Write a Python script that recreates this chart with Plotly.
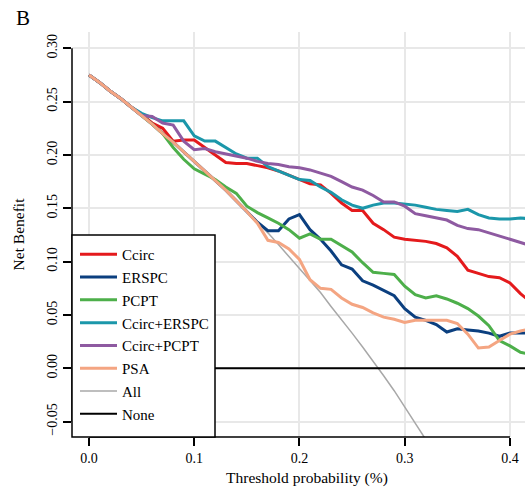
import plotly.graph_objects as go

thresholds = [0.00, 0.01, 0.02, 0.03, 0.04, 0.05, 0.06, 0.07, 0.08, 0.09,
              0.10, 0.11, 0.12, 0.13, 0.14, 0.15, 0.16, 0.17, 0.18, 0.19,
              0.20, 0.21, 0.22, 0.23, 0.24, 0.25, 0.26, 0.27, 0.28, 0.29,
              0.30, 0.31, 0.32, 0.33, 0.34, 0.35, 0.36, 0.37, 0.38, 0.39,
              0.40, 0.41, 0.42]

ccirc = [0.275, 0.268, 0.260, 0.253, 0.245, 0.238, 0.230, 0.225, 0.213, 0.214,
         0.214, 0.207, 0.200, 0.193, 0.192, 0.192, 0.190, 0.188, 0.185, 0.181,
         0.177, 0.173, 0.172, 0.164, 0.155, 0.148, 0.148, 0.136, 0.130, 0.123,
         0.121, 0.120, 0.119, 0.117, 0.113, 0.105, 0.092, 0.089, 0.086, 0.085,
         0.080, 0.070, 0.062]

erspc = [0.275, 0.268, 0.260, 0.253, 0.245, 0.237, 0.229, 0.220, 0.212, 0.203,
         0.194, 0.185, 0.176, 0.167, 0.157, 0.147, 0.137, 0.129, 0.129, 0.140,
         0.144, 0.130, 0.121, 0.110, 0.097, 0.093, 0.082, 0.078, 0.073, 0.068,
         0.056, 0.048, 0.045, 0.041, 0.034, 0.037, 0.036, 0.035, 0.033, 0.030,
         0.033, 0.033, 0.033]

pcpt = [0.275, 0.268, 0.260, 0.253, 0.245, 0.237, 0.229, 0.220, 0.207, 0.196,
        0.187, 0.182, 0.177, 0.170, 0.164, 0.152, 0.146, 0.141, 0.136, 0.130,
        0.122, 0.126, 0.121, 0.121, 0.115, 0.109, 0.099, 0.090, 0.089, 0.088,
        0.077, 0.069, 0.066, 0.068, 0.065, 0.061, 0.056, 0.049, 0.040, 0.026,
        0.021, 0.015, 0.013]

ccirc_erspc = [0.275, 0.268, 0.260, 0.253, 0.245, 0.239, 0.235, 0.232, 0.232, 0.232,
               0.218, 0.213, 0.213, 0.207, 0.201, 0.197, 0.197, 0.189, 0.185, 0.181,
               0.177, 0.176, 0.170, 0.165, 0.158, 0.153, 0.150, 0.153, 0.155, 0.155,
               0.154, 0.153, 0.151, 0.149, 0.148, 0.147, 0.149, 0.144, 0.141, 0.140,
               0.140, 0.141, 0.140]

ccirc_pcpt = [0.275, 0.268, 0.260, 0.253, 0.245, 0.237, 0.236, 0.230, 0.228, 0.213,
              0.205, 0.206, 0.203, 0.201, 0.199, 0.197, 0.194, 0.192, 0.191, 0.189,
              0.188, 0.186, 0.183, 0.180, 0.175, 0.170, 0.167, 0.162, 0.156, 0.156,
              0.152, 0.145, 0.143, 0.141, 0.139, 0.134, 0.131, 0.130, 0.127, 0.124,
              0.121, 0.118, 0.115]

psa = [0.275, 0.268, 0.260, 0.253, 0.245, 0.237, 0.229, 0.220, 0.212, 0.203,
       0.194, 0.185, 0.176, 0.167, 0.157, 0.147, 0.136, 0.120, 0.118, 0.112,
       0.102, 0.083, 0.075, 0.074, 0.066, 0.060, 0.057, 0.052, 0.048, 0.046,
       0.043, 0.045, 0.045, 0.045, 0.045, 0.042, 0.032, 0.019, 0.020, 0.026,
       0.032, 0.035, 0.037]

all_thresholds = thresholds[:34]
treat_all = [0.275, 0.268, 0.260, 0.253, 0.245, 0.237, 0.229, 0.220, 0.212, 0.203,
             0.194, 0.185, 0.176, 0.167, 0.157, 0.147, 0.137, 0.127, 0.116, 0.105,
             0.094, 0.082, 0.071, 0.058, 0.046, 0.033, 0.020, 0.007, -0.007, -0.021,
             -0.036, -0.051, -0.066, -0.082]

none_x = [0.0, 0.42]
none_y = [0.0, 0.0]

x_ticks = [0.0, 0.1, 0.2, 0.3, 0.4]
x_ticktext = ["0.0", "0.1", "0.2", "0.3", "0.4"]
y_ticks = [-0.05, 0.0, 0.05, 0.10, 0.15, 0.20, 0.25, 0.30]
y_ticktext = ["\u22120.05", "0.00", "0.05", "0.10", "0.15", "0.20", "0.25", "0.30"]

FONT = "Liberation Serif"

fig = go.Figure()

# draw order (bottom to top) with legend order set by legendrank
series = [
    ("All", all_thresholds, treat_all, "#a8a8a8", 1.5, 7),
    ("None", none_x, none_y, "#000000", 2, 8),
    ("Ccirc", thresholds, ccirc, "#e41a1c", 3, 1),
    ("ERSPC", thresholds, erspc, "#0b3f7f", 3, 2),
    ("PCPT", thresholds, pcpt, "#4daf4a", 3, 3),
    ("Ccirc+ERSPC", thresholds, ccirc_erspc, "#1b97aa", 3, 4),
    ("Ccirc+PCPT", thresholds, ccirc_pcpt, "#8e5aa1", 3, 5),
    ("PSA", thresholds, psa, "#f4a582", 3, 6),
]
for name, xs, ys, color, width, rank in series:
    fig.add_trace(go.Scatter(
        x=xs, y=ys, mode="lines", name=name,
        line=dict(color=color, width=width),
        legendrank=rank, legendgroup=name,
    ))

x_range = [-0.01615, 0.4143]
y_range = [-0.0644, 0.3153]

PLOT_W = 453.0
PLOT_H = 405.0

fig.update_layout(
    width=525, height=490,
    margin=dict(l=72, r=0, t=32, b=53),
    paper_bgcolor="white", plot_bgcolor="white",
    font=dict(family=FONT, size=14, color="black"),
    showlegend=True,
    legend=dict(
        x=3 / PLOT_W, y=6 / PLOT_H, xanchor="left", yanchor="bottom",
        bgcolor="rgba(0,0,0,0)", borderwidth=0,
        font=dict(family=FONT, size=15, color="black"),
        tracegroupgap=0.3, itemwidth=37,
    ),
    xaxis=dict(
        range=x_range, tickmode="array", tickvals=x_ticks, ticktext=x_ticktext,
        showgrid=True, gridcolor="#e8e8e8", gridwidth=1.5, zeroline=False,
        showline=False, ticks="outside", ticklen=8, tickwidth=1.5, tickcolor="black",
        tickfont=dict(family=FONT, size=14),
        automargin=False,
    ),
    yaxis=dict(
        range=y_range, tickmode="array", tickvals=y_ticks, ticktext=y_ticktext,
        showgrid=True, gridcolor="#e8e8e8", gridwidth=1.5, zeroline=False,
        showline=False, ticks="outside", ticklen=8, tickwidth=1.5, tickcolor="black",
        tickangle=-90, tickfont=dict(family=FONT, size=14),
        title=dict(text="Net Benefit", font=dict(family=FONT, size=15.5), standoff=16),
        automargin=False,
    ),
    shapes=[
        dict(type="line", xref="x", yref="paper", x0=0.0, x1=0.4, y0=0, y1=0,
             line=dict(color="black", width=1.5)),
        dict(type="line", xref="paper", yref="y", x0=0, x1=0, y0=-0.05, y1=0.30,
             line=dict(color="black", width=1.5)),
        # legend frame (R-style box anchored at bottom-left of the plot region)
        dict(type="rect", xref="paper", yref="paper", layer="above",
             x0=0, x1=143 / PLOT_W, y0=0, y1=202 / PLOT_H,
             fillcolor="white", line=dict(color="black", width=1.5)),
    ],
    annotations=[
        dict(text="B", xref="paper", yref="paper", x=-0.128, y=1.034,
             xanchor="left", yanchor="middle", showarrow=False,
             font=dict(family=FONT, size=21, color="black")),
        dict(text="Threshold probability (%)", xref="paper", yref="paper",
             x=(307 - 72) / PLOT_W, y=(437 - 477.5) / PLOT_H,
             xanchor="center", yanchor="middle", showarrow=False,
             font=dict(family=FONT, size=15.5, color="black")),
    ],
)

fig.write_html("out.html")
